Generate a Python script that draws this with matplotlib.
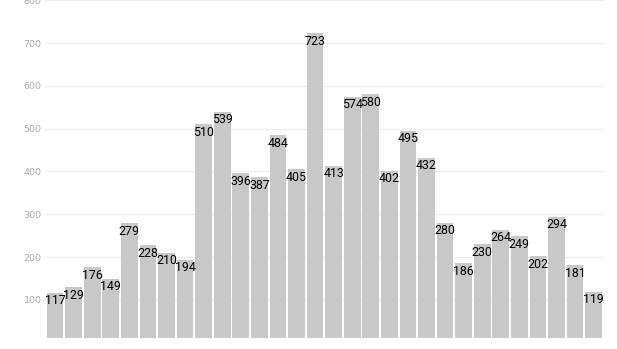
import matplotlib
matplotlib.use("Agg")
import matplotlib.pyplot as plt

categories = [str(i) for i in range(1, 31)]
values = [117, 129, 176, 149, 279, 228, 210, 194, 510, 539, 396, 387, 484, 405, 723,
          413, 574, 580, 402, 495, 432, 280, 186, 230, 264, 249, 202, 294, 181, 119]
yticks = [100, 200, 300, 400, 500, 600, 700, 800]

W, H = 617, 349
fig = plt.figure(figsize=(W / 100, H / 100), dpi=100)
ax = fig.add_axes([45 / W, 11 / H, 560 / W, 337.8 / H])

x = list(range(len(categories)))
ax.bar(x, values, width=0.9, color="#c8c8c8", zorder=2)
for xi, v in zip(x, values):
    ax.annotate(str(v), (xi, v), xytext=(0, -8), textcoords="offset pixels",
                ha="center", va="center", fontsize=8.9, color="#000000",
                family="Roboto", zorder=3)

ax.set_xlim(-0.54, 29.61)
ax.set_ylim(11, 800)
ax.set_yticks(yticks)
ax.set_yticklabels([str(t) for t in yticks])
ax.set_xticks([])
ax.grid(axis="y", color="#eeeeee", linewidth=0.9, zorder=0)
for s in ax.spines.values():
    s.set_visible(False)
ax.tick_params(axis="y", length=0, pad=2.5, labelsize=6.8, labelcolor="#aaaaaa")

fig.savefig("out.png", dpi=100)
